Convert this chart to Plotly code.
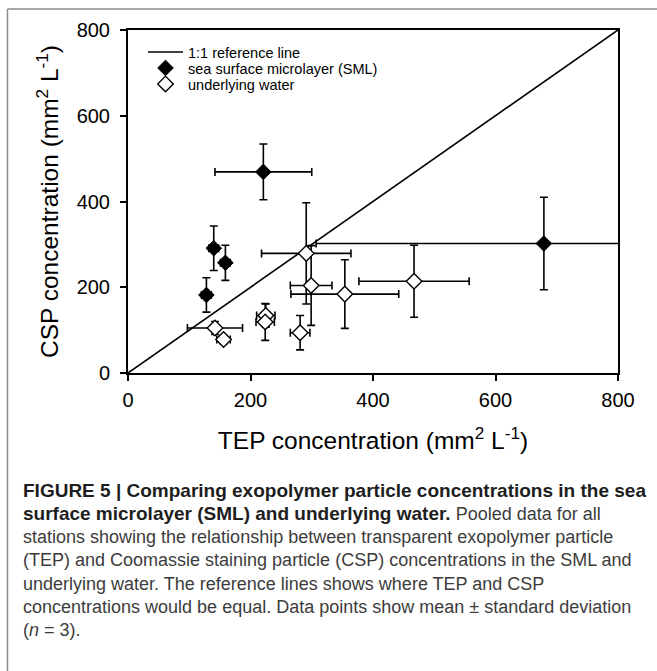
import plotly.graph_objects as go

# ---- data ----
ref_line = [0, 800]

sml_tep = [221, 140, 159, 128, 679]
sml_csp = [469, 291, 257, 182, 302]
sml_tep_sd = [79, 8, 8, 8, 372]
sml_csp_sd = [65, 52, 41, 40, 108]

uw_tep = [291, 299, 354, 467, 281, 142, 156, 225, 224]
uw_csp = [279, 204, 184, 214, 94, 105, 78, 134, 119]
uw_tep_sd = [73, 34, 88, 90, 16, 45, 11, 15, 15]
uw_csp_sd = [118, 93, 80, 84, 40, 15, 10, 27, 43]

x_ticks = [0, 200, 400, 600, 800]
y_ticks = [0, 200, 400, 600, 800]

B0 = '<span style="font-size:19px;color:#1e1e1e"><b>'
B1 = '</b></span>'
caption_lines = [
    B0 + "FIGURE 5 | Comparing exopolymer particle concentrations in the sea" + B1,
    B0 + "surface microlayer (SML) and underlying water." + B1 + " Pooled data for all",
    "stations showing the relationship between transparent exopolymer particle",
    "(TEP) and Coomassie staining particle (CSP) concentrations in the SML and",
    "underlying water. The reference lines shows where TEP and CSP",
    "concentrations would be equal. Data points show mean \u00b1 standard deviation",
    "(<i>n</i> = 3).",
]

W, H = 657, 671
ML, MR, MT, MB = 128, 39, 30, 298
PW, PH = W - ML - MR, H - MT - MB
FONT = "Liberation Sans, Arial, sans-serif"

def px2paper_x(px):
    return (px - ML) / PW

def py2paper_y(py):
    return (H - MB - py) / PH

fig = go.Figure()

fig.add_trace(go.Scatter(
    x=ref_line, y=ref_line, mode="lines",
    line=dict(color="black", width=1.6),
    name="1:1 reference line", legend="legend",
))

err_style = dict(color="black", thickness=1.6, width=4)

fig.add_trace(go.Scatter(
    x=sml_tep, y=sml_csp, mode="markers",
    marker=dict(symbol="diamond", size=12, color="black",
                line=dict(color="black", width=1)),
    error_x=dict(type="data", array=sml_tep_sd, visible=True, **err_style),
    error_y=dict(type="data", array=sml_csp_sd, visible=True, **err_style),
    name="sea surface microlayer (SML)", legend="legend2",
))

fig.add_trace(go.Scatter(
    x=uw_tep, y=uw_csp, mode="markers",
    marker=dict(symbol="diamond", size=12, color="white",
                line=dict(color="black", width=1.4)),
    error_x=dict(type="data", array=uw_tep_sd, visible=True, **err_style),
    error_y=dict(type="data", array=uw_csp_sd, visible=True, **err_style),
    name="underlying water", legend="legend3",
))

axis_common = dict(
    showline=True, linecolor="black", linewidth=2, mirror=True,
    ticks="outside", ticklen=6, tickwidth=1.5, tickcolor="black",
    showgrid=False, zeroline=False, automargin=False,
    tickfont=dict(family=FONT, size=20, color="black"),
)

fig.update_xaxes(
    range=[0, 800], tickvals=x_ticks, ticktext=[str(v) for v in x_ticks],
    ticklabelstandoff=2,
    title=dict(text="TEP concentration (mm<sup>2</sup> L<sup>-1</sup>)",
               font=dict(family=FONT, size=24.5, color="black"),
               standoff=22),
    **axis_common,
)
fig.update_yaxes(
    range=[0, 800], tickvals=y_ticks, ticktext=[str(v) for v in y_ticks],
    ticklabelstandoff=6,
    title=dict(text="CSP concentration (mm<sup>2</sup> L<sup>-1</sup>)",
               font=dict(family=FONT, size=24.5, color="black"),
               standoff=11),
    **axis_common,
)

# frame of the figure panel (top and left edges visible)
shapes = [
    dict(type="line", xref="paper", yref="paper", layer="above",
         x0=px2paper_x(7.5), x1=px2paper_x(W + 10),
         y0=py2paper_y(9), y1=py2paper_y(9),
         line=dict(color="#8c8c8c", width=1.5)),
    dict(type="line", xref="paper", yref="paper", layer="above",
         x0=px2paper_x(7.5), x1=px2paper_x(7.5),
         y0=py2paper_y(9), y1=py2paper_y(H + 10),
         line=dict(color="#8c8c8c", width=1.5)),
]

annotations = []
line_y0 = 490
line_dy = 23.4
for i, t in enumerate(caption_lines):
    annotations.append(dict(
        text=t, xref="paper", yref="paper",
        x=px2paper_x(21), y=py2paper_y(line_y0 + i * line_dy),
        xanchor="left", yanchor="middle", showarrow=False,
        font=dict(family=FONT, size=18, color="#3c3c3c"),
        align="left",
    ))

def legend_at(py):
    return dict(
        x=px2paper_x(143), y=py2paper_y(py), xanchor="left", yanchor="middle",
        bgcolor="rgba(0,0,0,0)", borderwidth=0, itemwidth=35,
        font=dict(family=FONT, size=14.5, color="black"),
    )

fig.update_layout(
    width=W, height=H,
    margin=dict(l=ML, r=MR, t=MT, b=MB),
    paper_bgcolor="white", plot_bgcolor="white",
    showlegend=True,
    legend=legend_at(52),
    legend2=legend_at(68),
    legend3=legend_at(84),
    shapes=shapes,
    annotations=annotations,
)

fig.write_html("out.html", config={"displayModeBar": False},
               post_script="document.body.style.margin='0px';")
